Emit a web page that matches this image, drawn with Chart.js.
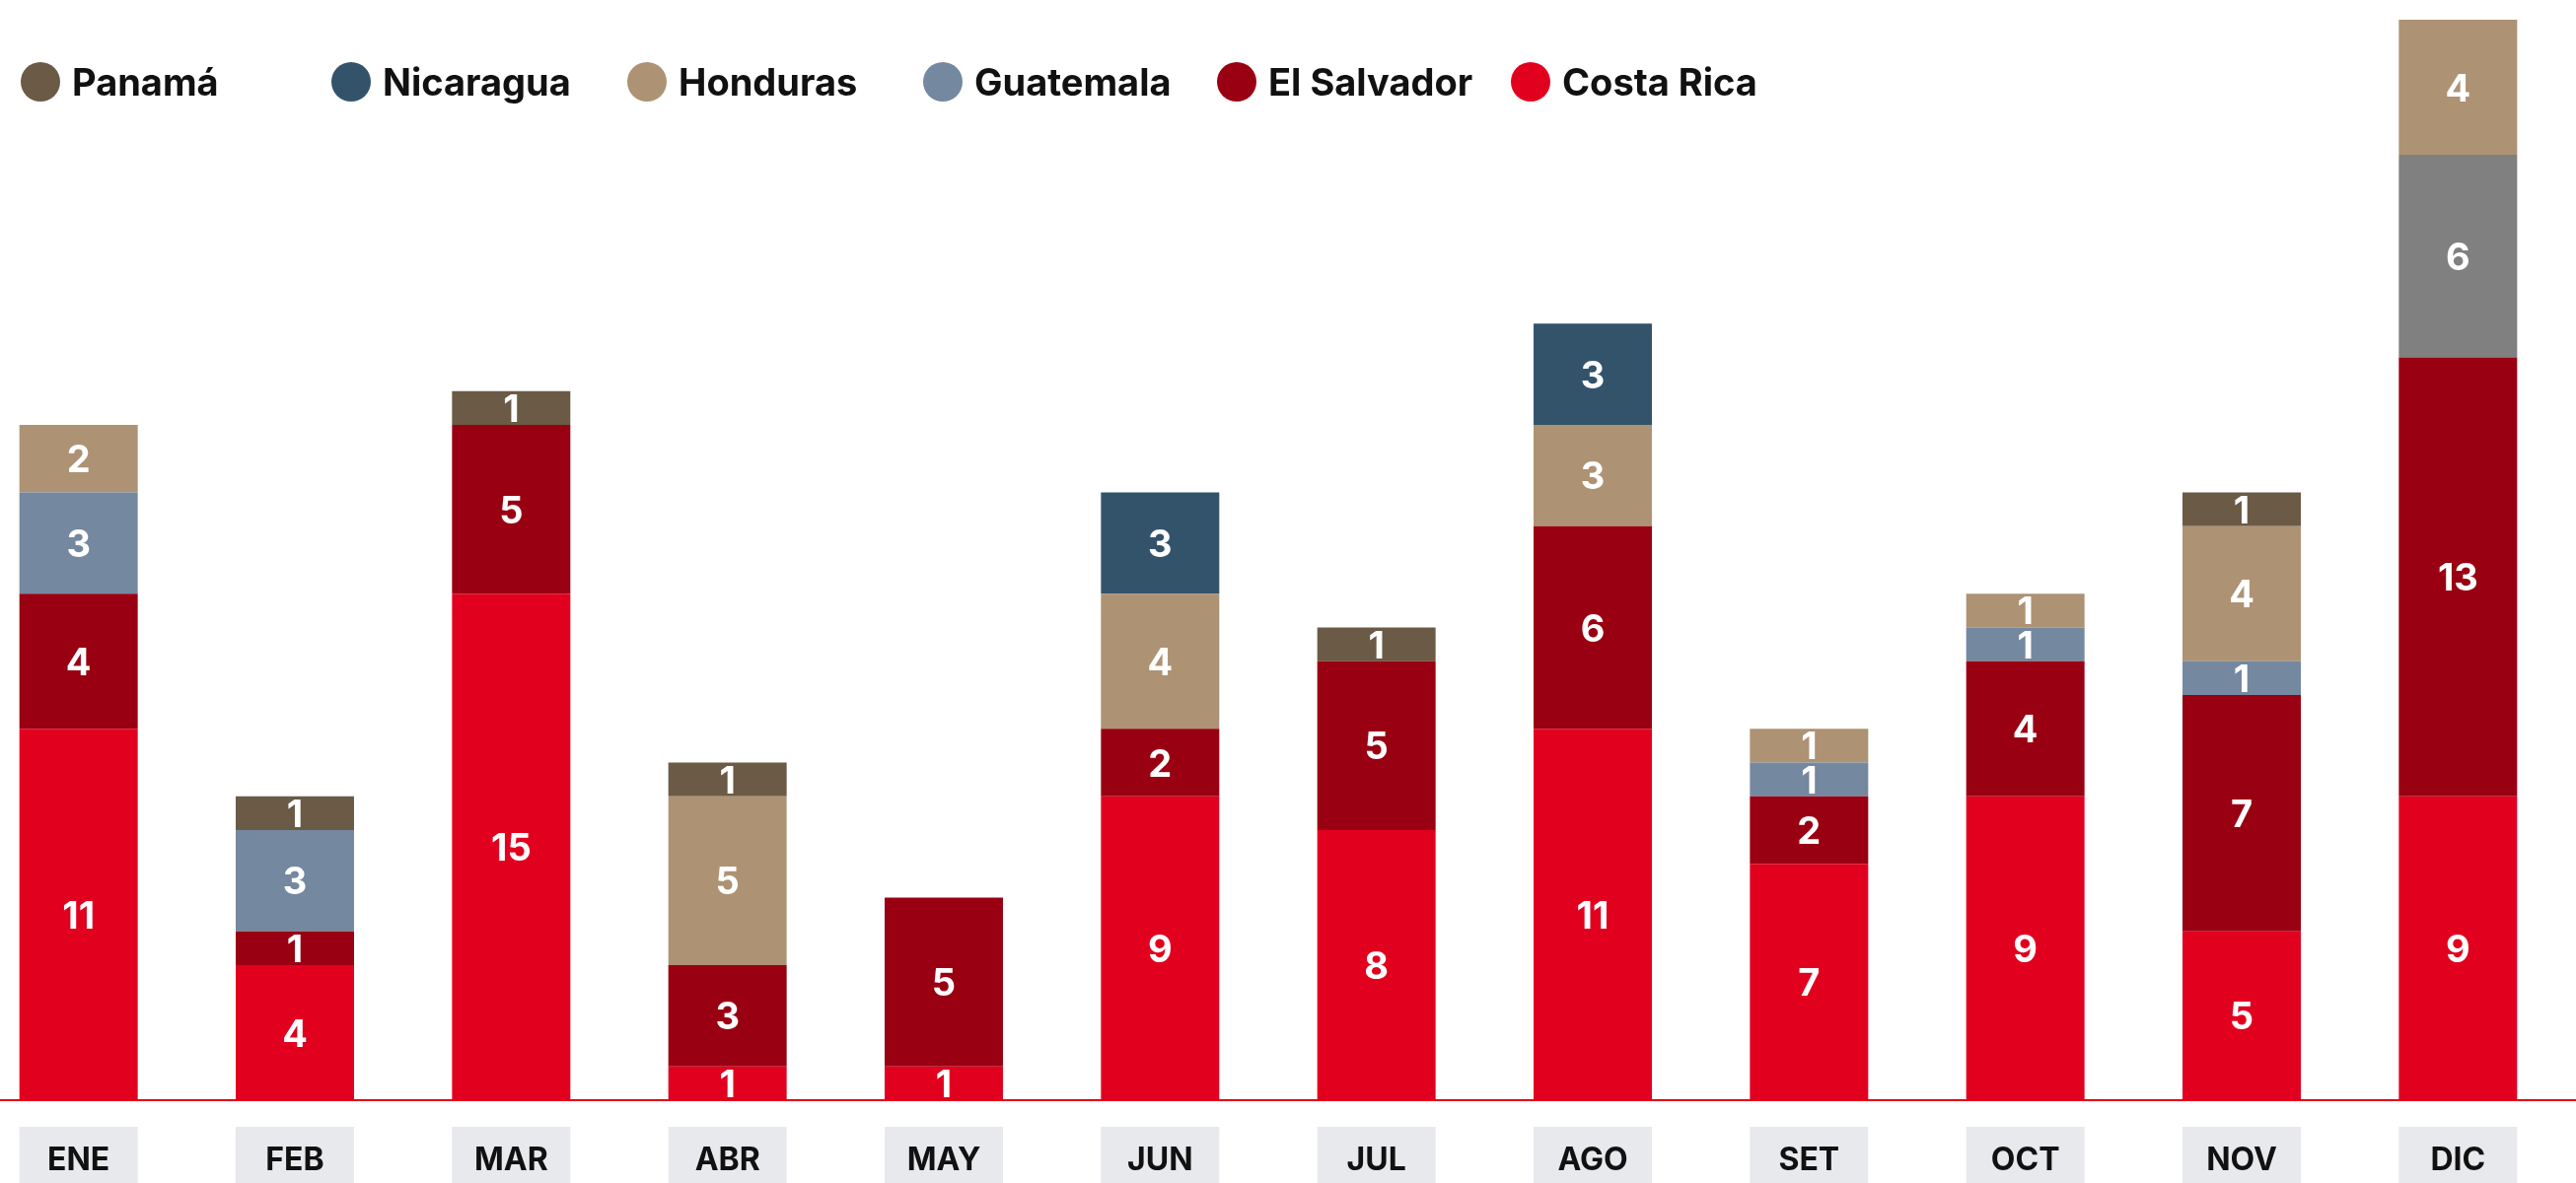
<!DOCTYPE html>
<html>
<head>
<meta charset="utf-8">
<script src="https://cdn.jsdelivr.net/npm/chart.js@4/dist/chart.umd.min.js"></script>
<style>
  html, body { margin: 0; padding: 0; background: #fff; overflow: hidden; }
  body { width: 2612px; height: 1200px; position: relative; font-family: Inter, "Noto Sans", sans-serif; }
  #wrap { position: absolute; left: -30px; top: 0; width: 2660px; height: 1200px; }
  #legend { position: absolute; left: 21px; top: 63px; display: grid;
            grid-template-columns: 315px 300px 300px 298px 298px 298px; z-index: 2; }
  .item { display: flex; align-items: center; height: 40px; font-weight: 700; font-size: 38px; color: #111; }
  .dot { width: 40px; height: 40px; border-radius: 50%; margin-right: 12px; flex: none; }
</style>
</head>
<body>
<div id="legend"></div>
<div id="wrap"><canvas id="chart"></canvas></div>
<script>
const months = ['ENE', 'FEB', 'MAR', 'ABR', 'MAY', 'JUN', 'JUL', 'AGO', 'SET', 'OCT', 'NOV', 'DIC'];

// cases per country, per month (null = none)
const costaRica  = [11, 4, 15, 1, 1, 9, 8, 11, 7, 9, 5, 9];
const elSalvador = [4, 1, 5, 3, 5, 2, 5, 6, 2, 4, 7, 13];
const guatemala  = [3, 3, null, null, null, null, null, null, 1, 1, 1, 6];
const honduras   = [2, null, null, 5, null, 4, null, 3, 1, 1, 4, 4];
const nicaragua  = [null, null, null, null, null, 3, null, 3, null, null, null, null];
const panama     = [null, 1, 1, 1, null, null, 1, null, null, null, 1, null];

const seriesNames = ['Costa Rica', 'El Salvador', 'Guatemala', 'Honduras', 'Nicaragua', 'Panamá'];
const seriesData = [costaRica, elSalvador, guatemala, honduras, nicaragua, panama];
const seriesColors = ['#e2001f', '#990012', '#74889f', '#ad9274', '#33536a', '#6a5a46'];

// DIC Guatemala segment shows in gray in the original
const guatemalaBars = months.map(m => m === 'DIC' ? '#808080' : seriesColors[2]);

const datasets = seriesNames.map((name, i) => ({
    label: name,
    data: seriesData[i],
    backgroundColor: i === 2 ? guatemalaBars : seriesColors[i],
    borderWidth: 0,
    barPercentage: 0.547,
    categoryPercentage: 1
}));

// html legend, reversed order like the original
const legend = document.getElementById('legend');
for (let i = seriesNames.length - 1; i >= 0; i--) {
    const it = document.createElement('div');
    it.className = 'item';
    it.innerHTML = '<span class="dot" style="background:' + seriesColors[i] + '"></span>' + seriesNames[i];
    legend.appendChild(it);
}

const tickBoxes = {
    id: 'tickBoxes',
    beforeDraw(chart) {
        const ctx = chart.ctx, x = chart.scales.x;
        ctx.save();
        ctx.fillStyle = '#e8e9ed';
        x.ticks.forEach((t, i) => {
            const cx = x.getPixelForTick(i);
            ctx.fillRect(cx - 60, 1143, 120, 60);
        });
        ctx.restore();
    },
    afterDatasetsDraw(chart) {
        const ctx = chart.ctx;
        const y0 = chart.scales.y.getPixelForValue(0);
        ctx.save();
        // baseline
        ctx.fillStyle = '#e2001f';
        ctx.fillRect(0, y0 - 1, chart.width, 2);
        // segment values
        ctx.fillStyle = '#fff';
        ctx.font = '700 38px Inter, "Noto Sans", sans-serif';
        ctx.textAlign = 'center';
        ctx.textBaseline = 'alphabetic';
        chart.data.datasets.forEach((ds, di) => {
            const meta = chart.getDatasetMeta(di);
            meta.data.forEach((bar, j) => {
                const v = ds.data[j];
                if (!v) return;
                ctx.fillText(String(v), bar.x, (bar.y + bar.base) / 2 + 14);
            });
        });
        ctx.restore();
    }
};

const ctx = document.getElementById('chart');
const theChart = new Chart(ctx, {
    type: 'bar',
    data: { labels: months, datasets: datasets },
    options: {
        responsive: true,
        maintainAspectRatio: false,
        animation: false,
        layout: { padding: { top: 20, bottom: 5, left: 0, right: 28 } },
        plugins: { legend: { display: false }, tooltip: { enabled: false } },
        scales: {
            x: {
                stacked: true,
                grid: { display: false, drawTicks: false },
                border: { display: false },
                afterFit: s => { s.height = 79; },
                ticks: {
                    padding: 42,
                    maxRotation: 0,
                    color: '#111',
                    font: { family: 'Inter, "Noto Sans", sans-serif', size: 32, weight: '700' }
                }
            },
            y: {
                stacked: true,
                display: false,
                min: 0,
                max: 32
            }
        }
    },
    plugins: [tickBoxes]
});
</script>
</body>
</html>
